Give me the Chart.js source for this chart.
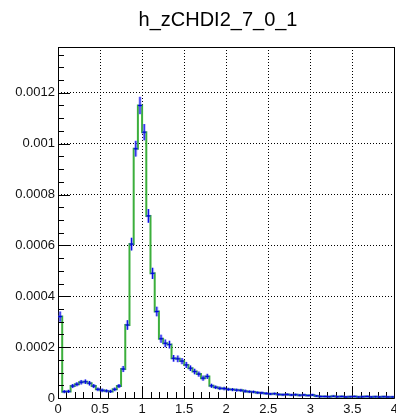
<!DOCTYPE html>
<html>
<head>
<meta charset="utf-8">
<script src="https://cdn.jsdelivr.net/npm/chart.js@4.4.1/dist/chart.umd.min.js"></script>
<style>
  html, body { margin: 0; padding: 0; background: #fff; overflow: hidden; }
  canvas { display: block; }
</style>
</head>
<body>
<canvas id="hist" width="402" height="414" style="width:402px;height:414px"></canvas>
<script>
// Histogram h_zCHDI2_7_0_1: 80 bins of width 0.05 from 0 to 4
const histTitle = 'h_zCHDI2_7_0_1';
const xMin = 0;
const xMax = 4;
const binWidth = 0.05;

const binContents = [
  0.00032, 0.000025, 0.000026, 0.000047, 0.000054, 0.000062, 0.000064, 0.000058, 0.000047, 0.000034,
  0.000030, 0.000028, 0.000026, 0.000034, 0.000047, 0.000114, 0.000287, 0.000605, 0.00098, 0.00115,
  0.001045, 0.000716, 0.00049, 0.00034, 0.000233, 0.000215, 0.00021, 0.000156, 0.000154, 0.000145,
  0.00013, 0.000117, 0.000104, 0.000094, 0.000078, 0.000085, 0.000048, 0.000042, 0.000038, 0.000037,
  0.000034, 0.000033, 0.000031, 0.00003, 0.000027, 0.000025, 0.000024, 0.000021, 0.00002, 0.000018,
  0.000016, 0.000017, 0.000014, 0.000013, 0.000014, 0.000012, 0.000013, 0.000011, 0.000012, 0.00001,
  0.000012, 0.000008, 0.000006, 0.000006, 0.000005, 0.000007, 0.000005, 0.000006, 0.000004, 0.000005,
  0.000006, 0.000004, 0.000005, 0.000006, 0.000004, 0.000005, 0.000004, 0.000005, 0.000004, 0.000004
];

const binErrors = [
  0.00002, 0.000006, 0.000006, 0.000008, 0.000008, 0.000009, 0.000009, 0.000009, 0.000008, 0.000007,
  0.000007, 0.000006, 0.000006, 0.000007, 0.000008, 0.000012, 0.000019, 0.000025, 0.000031, 0.000034,
  0.000032, 0.000027, 0.000022, 0.000019, 0.000016, 0.000015, 0.000015, 0.000013, 0.000013, 0.000012,
  0.000012, 0.000011, 0.000011, 0.00001, 0.00001, 0.00001, 0.000008, 0.000007, 0.000007, 0.000007,
  0.000006, 0.000006, 0.000006, 0.000006, 0.000006, 0.000005, 0.000005, 0.000005, 0.000005, 0.000005,
  0.000004, 0.000004, 0.000004, 0.000004, 0.000004, 0.000004, 0.000004, 0.000004, 0.000004, 0.000003,
  0.000004, 0.000003, 0.000003, 0.000003, 0.000003, 0.000003, 0.000003, 0.000003, 0.000003, 0.000003,
  0.000003, 0.000003, 0.000003, 0.000003, 0.000003, 0.000003, 0.000003, 0.000003, 0.000003, 0.000003
];

const xTickLabels = ['0', '0.5', '1', '1.5', '2', '2.5', '3', '3.5', '4'];
const yTickLabels = ['0', '0.0002', '0.0004', '0.0006', '0.0008', '0.001', '0.0012'];
const xMajorStep = 0.5, xMinorStep = 0.1;
const yMajorStep = 0.0002, yMinorStep = 0.00005;
const yMax = 0.00138;

// step outline: each bin's low edge with its content, closed at the last edge
const stepPoints = [{ x: xMin, y: 0 }];
binContents.forEach((v, i) => stepPoints.push({ x: xMin + i * binWidth, y: v }));
stepPoints.push({ x: xMax, y: binContents[binContents.length - 1] });

// bin centres for the error markers
const centrePoints = binContents.map((v, i) => ({ x: xMin + (i + 0.5) * binWidth, y: v, err: binErrors[i] }));

const labelFont = { family: "'Liberation Sans', Arial, Helvetica, sans-serif", size: 13 };

// ROOT-like frame: inward major/minor ticks and border
const framePlugin = {
  id: 'frame',
  afterDatasetsDraw(chart) {
    const { ctx, chartArea: a, scales: { x, y } } = chart;
    ctx.save();
    ctx.strokeStyle = '#000';
    ctx.lineWidth = 1;
    ctx.beginPath();
    const nx = Math.round((xMax - xMin) / xMinorStep);
    for (let i = 0; i <= nx; i++) {
      const v = xMin + i * xMinorStep;
      const px = Math.round(x.getPixelForValue(v)) + 0.5;
      const major = i % Math.round(xMajorStep / xMinorStep) === 0;
      const len = major ? 12 : 6;
      ctx.moveTo(px, a.bottom);
      ctx.lineTo(px, a.bottom - len);
    }
    const ny = Math.floor(yMax / yMinorStep + 1e-6);
    for (let i = 0; i <= ny; i++) {
      const v = i * yMinorStep;
      const py = Math.round(y.getPixelForValue(v)) + 0.5;
      const major = i % Math.round(yMajorStep / yMinorStep) === 0;
      const len = major ? 12 : 6;
      ctx.moveTo(a.left, py);
      ctx.lineTo(a.left + len, py);
    }
    ctx.stroke();
    ctx.beginPath();
    ctx.moveTo(Math.round(a.left) + 0.5, Math.round(a.bottom) + 0.5);
    ctx.lineTo(Math.round(a.left) + 0.5, Math.round(a.top) + 0.5);
    ctx.lineTo(Math.round(a.right) + 0.5, Math.round(a.top) + 0.5);
    ctx.lineTo(Math.round(a.right) + 0.5, Math.round(a.bottom) + 0.5);
    ctx.closePath();
    ctx.stroke();
    ctx.restore();
  }
};

// vertical error bars with a small horizontal marker at each bin centre
const errorBarPlugin = {
  id: 'errorBars',
  afterDatasetsDraw(chart) {
    const { ctx, chartArea: a, scales: { x, y } } = chart;
    const ds = chart.data.datasets[1];
    ctx.save();
    ctx.beginPath();
    ctx.rect(a.left, a.top, a.right - a.left, a.bottom - a.top);
    ctx.clip();
    const passes = [
      { color: 'rgba(90, 90, 255, 0.45)', width: 3 },
      { color: '#0000e6', width: 1 }
    ];
    passes.forEach(p => {
      ctx.strokeStyle = p.color;
      ctx.lineWidth = p.width;
      ctx.beginPath();
      ds.data.forEach(pt => {
        const px = x.getPixelForValue(pt.x);
        const py = y.getPixelForValue(pt.y);
        ctx.moveTo(px, y.getPixelForValue(pt.y - pt.err));
        ctx.lineTo(px, y.getPixelForValue(pt.y + pt.err));
        ctx.moveTo(px - 2, py);
        ctx.lineTo(px + 2, py);
      });
      ctx.stroke();
    });
    ctx.restore();
  }
};

// histogram name centred above the pad
const titlePlugin = {
  id: 'padTitle',
  afterDraw(chart) {
    const { ctx } = chart;
    ctx.save();
    ctx.fillStyle = '#000';
    ctx.font = "20px 'Liberation Sans', Arial, Helvetica, sans-serif";
    ctx.textAlign = 'center';
    ctx.textBaseline = 'alphabetic';
    ctx.fillText(histTitle, 218, 26);
    ctx.restore();
  }
};

new Chart(document.getElementById('hist'), {
  type: 'line',
  data: {
    datasets: [
      {
        label: histTitle,
        data: stepPoints,
        stepped: 'before',
        borderColor: 'rgb(60, 175, 60)',
        borderWidth: 2,
        pointRadius: 0,
        fill: false
      },
      {
        label: 'errors',
        data: centrePoints,
        showLine: false,
        pointRadius: 0,
        borderColor: 'transparent'
      }
    ]
  },
  options: {
    responsive: false,
    animation: false,
    devicePixelRatio: 1,
    layout: { padding: { top: 47, right: 4, left: 0, bottom: 0 }, autoPadding: false },
    plugins: { legend: { display: false }, title: { display: false }, tooltip: { enabled: false } },
    scales: {
      x: {
        type: 'linear',
        min: xMin,
        max: xMax,
        border: { display: false, dash: [1, 2] },
        grid: { color: '#000', lineWidth: 1, drawTicks: false },
        ticks: {
          stepSize: xMajorStep,
          includeBounds: false,
          autoSkip: false,
          maxRotation: 0,
          padding: 4,
          color: '#111',
          font: labelFont,
          callback: (v) => xTickLabels[Math.round((v - xMin) / xMajorStep)]
        },
        afterFit: (s) => { s.height = 16; }
      },
      y: {
        type: 'linear',
        min: 0,
        max: yMax,
        border: { display: false, dash: [1, 2] },
        grid: { color: '#000', lineWidth: 1, drawTicks: false },
        ticks: {
          stepSize: yMajorStep,
          includeBounds: false,
          padding: 3,
          color: '#111',
          font: labelFont,
          callback: (v) => yTickLabels[Math.round(v / yMajorStep)]
        },
        afterFit: (s) => { s.width = 58; }
      }
    }
  },
  plugins: [framePlugin, errorBarPlugin, titlePlugin]
});
</script>
</body>
</html>
